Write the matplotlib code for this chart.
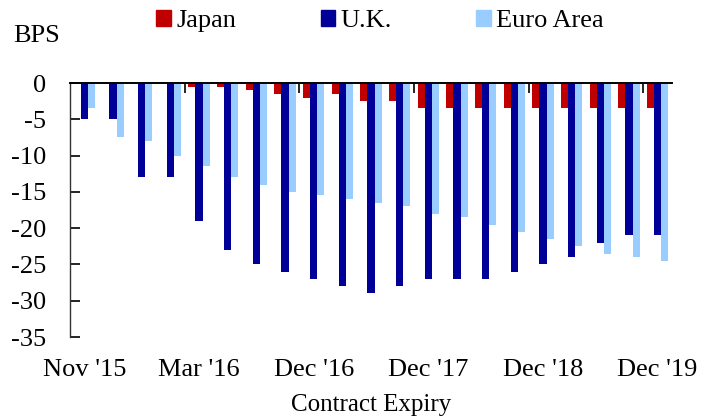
import numpy as np
import matplotlib
matplotlib.use('Agg')
import matplotlib.pyplot as plt
from matplotlib.patches import Patch

plt.rcParams['font.family'] = ['Liberation Serif', 'DejaVu Serif']
plt.rcParams['axes.unicode_minus'] = False

# contract expiries (only every 4th is labelled on the chart)
expiries = ["Nov '15", "Dec '15", "Jan '16", "Feb '16", "Mar '16", "Apr '16",
            "Jun '16", "Sep '16", "Dec '16", "Mar '17", "Jun '17", "Sep '17",
            "Dec '17", "Mar '18", "Jun '18", "Sep '18", "Dec '18", "Mar '19",
            "Jun '19", "Sep '19", "Dec '19"]
japan = [0, 0, 0, 0, -0.5, -0.5, -1, -1.5, -2, -1.5, -2.5, -2.5, -3.5, -3.5,
         -3.5, -3.5, -3.5, -3.5, -3.5, -3.5, -3.5]
uk = [-5, -5, -13, -13, -19, -23, -25, -26, -27, -28, -29, -28, -27, -27,
      -27, -26, -25, -24, -22, -21, -21]
euro = [-3.5, -7.5, -8, -10, -11.5, -13, -14, -15, -15.5, -16, -16.5, -17,
        -18, -18.5, -19.5, -20.5, -21.5, -22.5, -23.5, -24, -24.5]

COLORS = {'Japan': '#C00000', 'U.K.': '#000099', 'Euro Area': '#99CCFF'}
FS = 19

fig = plt.figure(figsize=(7.15, 4.18), dpi=100)
ax = fig.add_axes([70 / 715, 81 / 418, 602 / 715, 254 / 418])

x = np.arange(len(expiries))
w = 0.245
ax.bar(x - w, japan, w, color=COLORS['Japan'], linewidth=0)
ax.bar(x, uk, w, color=COLORS['U.K.'], linewidth=0)
ax.bar(x + w, euro, w, color=COLORS['Euro Area'], linewidth=0)

ax.set_xlim(-0.5, len(expiries) - 0.5)
ax.set_ylim(-35, 0)

# zero line is the top spine, category ticks hang from it
for side in ('right', 'bottom'):
    ax.spines[side].set_visible(False)
ax.spines['top'].set_linewidth(1.4)
ax.spines['left'].set_linewidth(1.0)
ax.spines['left'].set_color('#333333')

ax.set_xticks(x[::4])
ax.set_xticklabels(expiries[::4], fontsize=FS)
ax.set_xticks(x[::4][1:] - 0.5, minor=True)
ax.tick_params(axis='x', which='major', length=0, pad=16)
ax.tick_params(axis='x', which='minor', top=True, bottom=False,
               direction='in', length=7, width=1.2)

ax.set_yticks(np.arange(-35, 1, 5))
ax.tick_params(axis='y', direction='in', length=7, width=1.2, pad=17,
               labelsize=FS)

ax.set_xlabel('Contract Expiry', fontsize=FS - 1, labelpad=9)
fig.text(13 / 715, 1 - 36 / 418, 'BPS', fontsize=FS, va='center', ha='left')

handles = [Patch(color=c, label=k) for k, c in COLORS.items()]
fig.legend(handles=handles, loc='center', ncol=3, frameon=False,
           bbox_to_anchor=(380 / 715, 1 - 21 / 418), fontsize=FS,
           handlelength=0.55, handleheight=0.55, handletextpad=0.2,
           columnspacing=3.2, borderpad=0)

fig.savefig('out.png', dpi=100)
